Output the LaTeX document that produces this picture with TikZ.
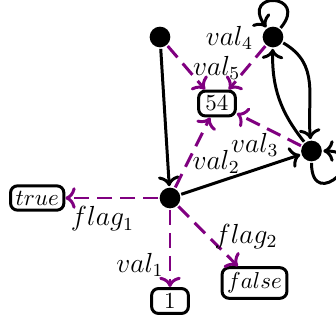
\documentclass[tikz,border=0pt]{standalone}
\usetikzlibrary{arrows.meta}
\begin{document}
\begin{tikzpicture}[x=0.4348pt,y=0.4348pt,
  line width=1.3pt,
  dot/.style={circle,fill=black,draw=none,minimum size=9pt,inner sep=0pt},
  valbox/.style={draw,rounded corners=3pt,inner sep=2.2pt,minimum width=16pt},
  flow/.style={->,draw=violet,dash pattern=on 6.5pt off 3.5pt},
  link/.style={->,draw=black},
  selfloop/.style={looseness=8,min distance=5mm},
  lbl/.style={font=\large,inner sep=0pt,anchor=center,text=black}]
\useasboundingbox (0,0) rectangle (336,320);
\node[dot] (A) at (160,283) {};
\node[dot] (B) at (273,283) {};
\node[dot] (C) at (311.5,169) {};
\node[dot] (D) at (170,122) {};
\node[valbox] (n54) at (217,216.5) {$54$};
\node[valbox] (ntrue) at (37.2,122) {$true$};
\node[valbox] (none) at (170,19) {$1$};
\node[valbox] (nfalse) at (254.5,37) {$false$};

\draw[link] (A) -- (D);
\draw[link] (D) -- (C);
\draw[link] (B) to[out=-30,in=95,looseness=1.1] (C);
\draw[link] (C) to[bend left=20] (B);
\draw[link] (B) to[selfloop,out=50,in=125] (B);
\draw[link] (C) to[selfloop,out=-90,in=0] (C);

\draw[flow] (A) -- (n54) node[lbl,pos=0.51,shift={(30,0)}] {$val_5$};
\draw[flow] (B) -- (n54) node[lbl,pos=0,shift={(-36,8)}] {$val_4$};
\draw[flow] (C) -- (n54) node[lbl,pos=0.72,shift={(0,-22)}] {$val_3$};
\draw[flow] (D) -- (n54) node[lbl,pos=0.37,shift={(28,0)}] {$val_2$};
\draw[flow] (D) -- (ntrue) node[lbl,pos=0.6,shift={(0,-21)}] {$flag_1$};
\draw[flow] (D) -- (none) node[lbl,pos=0.71,shift={(-30,0)}] {$val_1$};
\draw[flow] (D) -- (nfalse) node[lbl,pos=0.5,shift={(38,0)}] {$flag_2$};
\end{tikzpicture}
\end{document}
